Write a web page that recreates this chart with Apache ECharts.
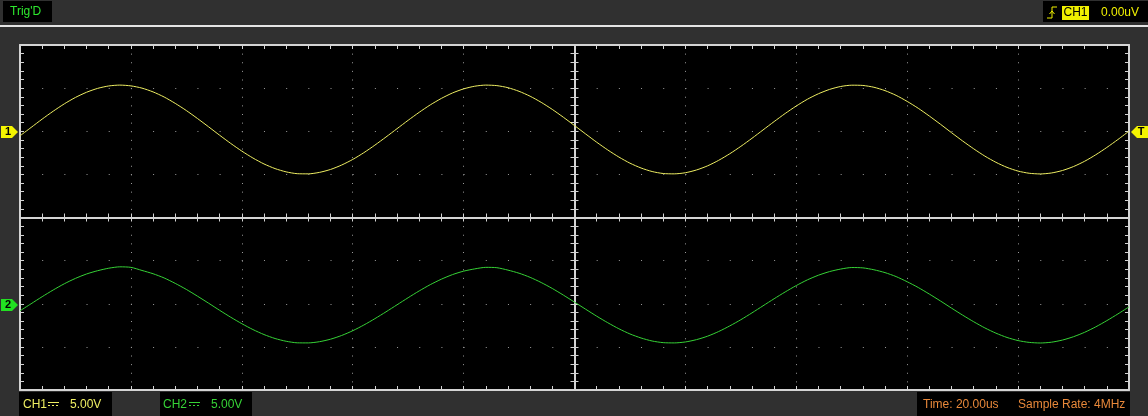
<!DOCTYPE html>
<html><head><meta charset="utf-8">
<script src="https://cdn.jsdelivr.net/npm/echarts@6/dist/echarts.min.js"></script>
<style>html,body{margin:0;padding:0;background:#303030;overflow:hidden;} #c{width:1148px;height:416px;}</style>
</head><body><div id="c"></div>
<script>
// time base (us), 10 divisions x 20 us
const timeUs = [0,2,4,6,8,10,12,14,16,18,20,22,24,26,28,30,32,34,36,38,40,42,44,46,48,50,52,54,56,58,60,62,64,66,68,70,72,74,76,78,80,82,84,86,88,90,92,94,96,98,100,102,104,106,108,110,112,114,116,118,120,122,124,126,128,130,132,134,136,138,140,142,144,146,148,150,152,154,156,158,160,162,164,166,168,170,172,174,176,178,180,182,184,186,188,190,192,194,196,198,200];
// CH1 signal (V)
const ch1Volts = [-0.53,0.44,1.41,2.33,3.18,3.92,4.52,4.97,5.25,5.35,5.26,5.00,4.56,3.97,3.23,2.40,1.48,0.52,-0.46,-1.41,-2.30,-3.10,-3.79,-4.33,-4.71,-4.92,-4.94,-4.77,-4.43,-3.92,-3.27,-2.49,-1.61,-0.67,0.30,1.27,2.20,3.06,3.81,4.44,4.91,5.22,5.35,5.29,5.05,4.63,4.06,3.35,2.53,1.62,0.66,-0.31,-1.27,-2.17,-2.99,-3.70,-4.26,-4.67,-4.90,-4.94,-4.81,-4.49,-4.01,-3.37,-2.61,-1.75,-0.82,0.15,1.12,2.06,2.93,3.71,4.35,4.85,5.19,5.34,5.31,5.10,4.71,4.16,3.46,2.66,1.76,0.81,-0.17,-1.13,-2.04,-2.88,-3.60,-4.19,-4.62,-4.87,-4.95,-4.84,-4.55,-4.09,-3.48,-2.73,-1.88,-0.96,0.01];
// CH2 signal (V)
const ch2Volts = [-0.82,0.00,0.82,1.60,2.32,2.94,3.45,3.83,4.12,4.28,4.22,3.86,3.48,2.99,2.36,1.66,0.88,0.07,-0.76,-1.56,-2.31,-2.99,-3.57,-4.03,-4.35,-4.53,-4.54,-4.40,-4.11,-3.68,-3.13,-2.47,-1.73,-0.94,-0.12,0.70,1.49,2.22,2.85,3.38,3.78,4.04,4.22,4.18,3.90,3.54,3.06,2.46,1.77,1.00,0.19,-0.63,-1.44,-2.20,-2.90,-3.50,-3.97,-4.32,-4.51,-4.54,-4.43,-4.16,-3.76,-3.22,-2.57,-1.85,-1.06,-0.24,0.58,1.37,2.11,2.77,3.31,3.73,4.02,4.20,4.16,3.94,3.61,3.15,2.55,1.88,1.12,0.32,-0.51,-1.32,-2.09,-2.80,-3.41,-3.91,-4.27,-4.48,-4.55,-4.46,-4.21,-3.82,-3.31,-2.68,-1.96,-1.18,-0.36];
const ch1Offset = 10;   // +2 div
const ch2Offset = -10;  // -2 div
const timeMax = 200, timeDiv = 20;
const voltMin = -20, voltMax = 20, voltDiv = 5;
const labels = {
  trig: "Trig'D", trigSrc: 'CH1', trigLevel: '0.00uV',
  ch1: 'CH1', ch1Scale: '5.00V', ch2: 'CH2', ch2Scale: '5.00V',
  time: 'Time: 20.00us', rate: 'Sample Rate: 4MHz'
};

const YEL = '#eeee62', GRN = '#36d236', ORG = '#e8883a', BORDER = '#d4d4d4', DOT = '#9a9a9a';
const chart = echarts.init(document.getElementById('c'), null, {renderer: 'canvas'});
const GL = 20, GT = 45, GW = 1109, GH = 345;

function xAx(extra) {
  return Object.assign({
    type: 'value', min: 0, max: timeMax, interval: timeDiv, gridIndex: 0,
    axisLabel: {show: false},
    axisLine: {show: true, onZero: false, lineStyle: {color: BORDER, width: 2}},
    axisTick: {show: true, inside: true, length: 4, lineStyle: {color: BORDER, width: 1}},
    minorTick: {show: true, splitNumber: 5, length: 4, lineStyle: {color: BORDER, width: 1}},
    splitLine: {show: false}
  }, extra);
}
function yAx(extra) {
  return Object.assign({
    type: 'value', min: voltMin, max: voltMax, interval: voltDiv, gridIndex: 0,
    axisLabel: {show: false},
    axisLine: {show: true, onZero: false, lineStyle: {color: BORDER, width: 2}},
    axisTick: {show: true, inside: true, length: 4, lineStyle: {color: BORDER, width: 1}},
    minorTick: {show: true, splitNumber: 5, length: 4, lineStyle: {color: BORDER, width: 1}},
    splitLine: {show: false}
  }, extra);
}
const halfH = GH / 2, halfW = GW / 2;

const option = {
  backgroundColor: '#303030',
  animation: false,
  grid: [{left: GL, top: GT, width: GW, height: GH, show: true, backgroundColor: '#000', borderWidth: 0}],
  xAxis: [
    xAx({position: 'bottom', splitLine: {show: true, lineStyle: {color: DOT, width: 1, type: [1, GH / 40 - 1]}}}),
    xAx({position: 'top'}),
    xAx({position: 'bottom', offset: -halfH, axisTick: {show: true, inside: true, length: 4, lineStyle: {color: BORDER}}, minorTick: {show: true, splitNumber: 5, length: 4, lineStyle: {color: BORDER}}}),
    xAx({position: 'bottom', offset: -halfH, axisTick: {show: true, inside: false, length: 4, lineStyle: {color: BORDER}}, minorTick: {show: true, splitNumber: 5, length: 4, lineStyle: {color: BORDER}}})
  ],
  yAxis: [
    yAx({position: 'left', splitLine: {show: true, lineStyle: {color: DOT, width: 1, type: [1, GW / 50 - 1]}}}),
    yAx({position: 'right'}),
    yAx({position: 'left', offset: -halfW, axisTick: {show: true, inside: true, length: 4, lineStyle: {color: BORDER}}, minorTick: {show: true, splitNumber: 5, length: 4, lineStyle: {color: BORDER}}}),
    yAx({position: 'left', offset: -halfW, axisTick: {show: true, inside: false, length: 4, lineStyle: {color: BORDER}}, minorTick: {show: true, splitNumber: 5, length: 4, lineStyle: {color: BORDER}}})
  ],
  series: [
    {name: 'CH1', type: 'line', xAxisIndex: 0, yAxisIndex: 0, showSymbol: false, smooth: 0.25,
     lineStyle: {color: YEL, width: 1}, data: timeUs.map((t, i) => [t, ch1Volts[i] + ch1Offset]), z: 5},
    {name: 'CH2', type: 'line', xAxisIndex: 0, yAxisIndex: 0, showSymbol: false, smooth: 0.25,
     lineStyle: {color: GRN, width: 1}, data: timeUs.map((t, i) => [t, ch2Volts[i] + ch2Offset]), z: 5}
  ]
};
chart.setOption(option);

const p1 = chart.convertToPixel({xAxisIndex: 0, yAxisIndex: 0}, [0, ch1Offset]);
const p2 = chart.convertToPixel({xAxisIndex: 0, yAxisIndex: 0}, [0, ch2Offset]);
const font = '12px "Liberation Sans", Arial, sans-serif';
function marker(yc, color, txt, right) {
  const pts = right
    ? [[1148, yc - 6], [1137, yc - 6], [1131, yc], [1137, yc + 6], [1148, yc + 6]]
    : [[1, yc - 6], [12, yc - 6], [18, yc], [12, yc + 6], [1, yc + 6]];
  return [
    {type: 'polygon', shape: {points: pts}, style: {fill: color}, z: 20},
    {type: 'text', x: right ? 1141 : 8, y: yc, style: {text: txt, fill: '#000', font: 'bold 11px "Liberation Sans", Arial, sans-serif', align: 'center', verticalAlign: 'middle'}, z: 21}
  ];
}
function dcSym(x, y, color) {
  return [
    {type: 'line', shape: {x1: x, y1: y, x2: x + 11, y2: y}, style: {stroke: color, lineWidth: 1}, z: 21},
    {type: 'line', shape: {x1: x, y1: y + 3, x2: x + 11, y2: y + 3}, style: {stroke: color, lineWidth: 1, lineDash: [2, 2]}, z: 21}
  ];
}
const g = [
  {type: 'rect', shape: {x: 0, y: 25, width: 1148, height: 2}, style: {fill: '#e4e4e4'}, z: 10},
  {type: 'rect', shape: {x: 3, y: 1, width: 49, height: 21}, style: {fill: '#000'}, z: 10},
  {type: 'text', x: 10, y: 12, style: {text: labels.trig, fill: '#2ee82e', font: font, verticalAlign: 'middle'}, z: 11},
  {type: 'rect', shape: {x: 1043, y: 1, width: 105, height: 21}, style: {fill: '#000'}, z: 10},
  {type: 'polyline', shape: {points: [[1047, 18], [1052, 18], [1052, 7], [1057, 7]]}, style: {stroke: '#f0f000', lineWidth: 1, fill: null}, z: 11},
  {type: 'polyline', shape: {points: [[1049.5, 14], [1052, 11], [1054.5, 14]]}, style: {stroke: '#f0f000', lineWidth: 1, fill: null}, z: 11},
  {type: 'rect', shape: {x: 1062, y: 6, width: 27, height: 14}, style: {fill: '#f0f000'}, z: 11},
  {type: 'text', x: 1075.5, y: 13, style: {text: labels.trigSrc, fill: '#000', font: font, align: 'center', verticalAlign: 'middle'}, z: 12},
  {type: 'text', x: 1101, y: 13, style: {text: labels.trigLevel, fill: '#f0f000', font: font, verticalAlign: 'middle'}, z: 11},
  {type: 'rect', shape: {x: 19, y: 392, width: 93, height: 24}, style: {fill: '#000'}, z: 10},
  {type: 'text', x: 23, y: 405, style: {text: labels.ch1, fill: YEL, font: font, verticalAlign: 'middle'}, z: 11},
  ...dcSym(48, 402.5, YEL),
  {type: 'text', x: 70, y: 405, style: {text: labels.ch1Scale, fill: YEL, font: font, verticalAlign: 'middle'}, z: 11},
  {type: 'rect', shape: {x: 160, y: 392, width: 92, height: 24}, style: {fill: '#000'}, z: 10},
  {type: 'text', x: 163, y: 405, style: {text: labels.ch2, fill: GRN, font: font, verticalAlign: 'middle'}, z: 11},
  ...dcSym(189, 402.5, GRN),
  {type: 'text', x: 211, y: 405, style: {text: labels.ch2Scale, fill: GRN, font: font, verticalAlign: 'middle'}, z: 11},
  {type: 'rect', shape: {x: 917, y: 392, width: 213, height: 24}, style: {fill: '#000'}, z: 10},
  {type: 'text', x: 923, y: 405, style: {text: labels.time, fill: ORG, font: font, verticalAlign: 'middle'}, z: 11},
  {type: 'text', x: 1018, y: 405, style: {text: labels.rate, fill: ORG, font: font, verticalAlign: 'middle'}, z: 11},
  ...marker(Math.round(p1[1]) + 1, '#f4f400', '1', false),
  ...marker(Math.round(p2[1]) + 1, '#22e022', '2', false),
  ...marker(Math.round(p1[1]) + 1, '#f4f400', 'T', true)
];
chart.setOption({graphic: {elements: g}});
</script></body></html>
